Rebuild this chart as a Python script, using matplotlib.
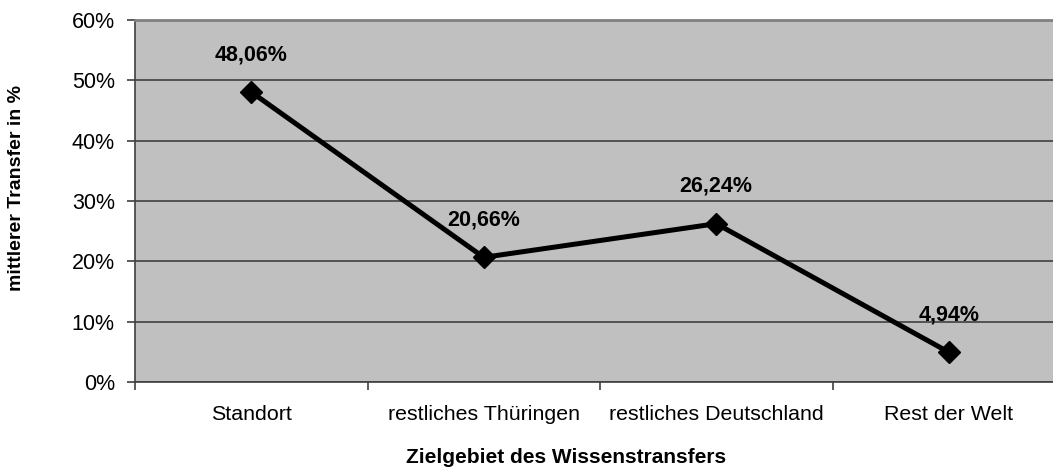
import matplotlib.pyplot as plt
from matplotlib.ticker import FuncFormatter

plt.rcParams['font.family'] = ['Liberation Sans', 'DejaVu Sans']

categories = ['Standort', 'restliches Thüringen', 'restliches Deutschland', 'Rest der Welt']
values = [48.06, 20.66, 26.24, 4.94]
labels = ['48,06%', '20,66%', '26,24%', '4,94%']

fig = plt.figure(figsize=(10.53, 4.68), dpi=100)
# plot area runs past the right edge of the image, as in the original
ax = fig.add_axes([135 / 1053, 86 / 468, 930 / 1053, 362 / 468])
ax.set_facecolor('#c0c0c0')

x = list(range(len(categories)))
ax.plot(x, values, color='black', lw=3.6, marker='D', ms=11, zorder=3)

for xi, v, lab in zip(x, values, labels):
    ax.annotate(lab, (xi, v), xytext=(0, 27), textcoords='offset points',
                ha='center', va='center', fontsize=15.5, fontweight='bold')

ax.set_xlim(-0.5, len(categories) - 0.5)
ax.set_ylim(0, 60)
ax.set_yticks(range(0, 61, 10))
ax.yaxis.set_major_formatter(FuncFormatter(lambda v, p: f'{v:.0f}%'))
ax.grid(axis='y', color='#404040', lw=1.2)
ax.set_axisbelow(True)

# category ticks sit between categories, labels centred under points
ax.set_xticks([i + 0.5 for i in x[:-1]] + [-0.5])
ax.set_xticklabels([])
ax.set_xticks(x, minor=True)
ax.set_xticklabels(categories, minor=True)
ax.tick_params(axis='x', which='minor', length=0, pad=16.5, labelsize=15.4)
ax.tick_params(axis='x', which='major', length=6, color='#404040', width=1.2)
ax.tick_params(axis='y', length=6, color='#404040', width=1.2, pad=8.5, labelsize=15.5)

for s in ['left', 'bottom']:
    ax.spines[s].set_color('#404040')
    ax.spines[s].set_linewidth(1.2)
ax.spines['top'].set_color('#808080')
ax.spines['top'].set_linewidth(2)
ax.spines['right'].set_visible(False)

ax.set_xlabel('Zielgebiet des Wissenstransfers', fontsize=15, fontweight='bold')
ax.xaxis.set_label_coords(0.463, -0.182)
ax.set_ylabel('mittlerer Transfer in %', fontsize=14, fontweight='bold')
ax.yaxis.set_label_coords(-0.118, 0.536)

fig.savefig('out.png', dpi=100)
